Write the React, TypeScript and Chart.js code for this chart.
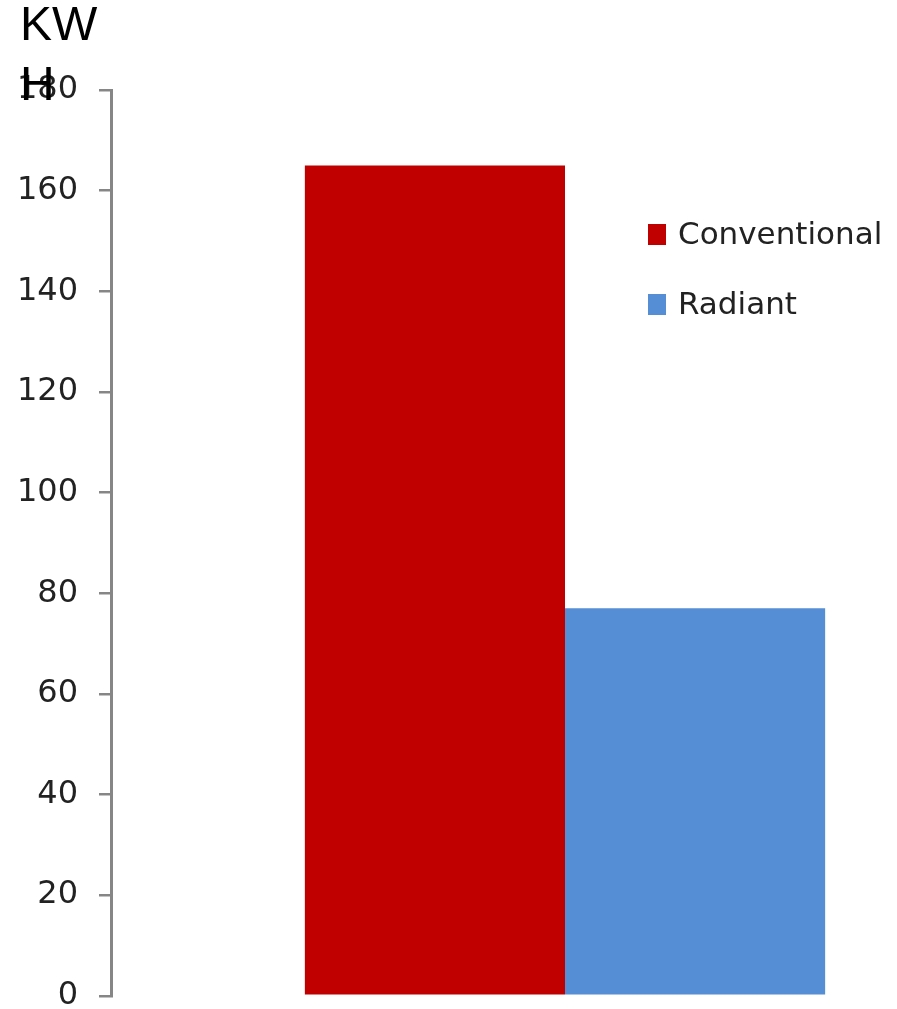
import React, { useEffect, useRef } from "react";
import { Chart, registerables } from "chart.js";

Chart.register(...registerables);

const categories: string[] = [""];
const seriesNames: string[] = ["Conventional", "Radiant"];
const conventionalValues: number[] = [165];
const radiantValues: number[] = [77];
const seriesColors: string[] = ["#C00000", "#558ED5"];
const titleLines: string[] = ["KW", "H"];
const yMin = 0;
const yMax = 180;
const yStep = 20;

const CANVAS_W = 1019;
const CANVAS_H = 1036;

const titlePlugin = {
  id: "kwhTitle",
  afterDraw(chart: any) {
    const ctx = chart.ctx;
    ctx.save();
    ctx.fillStyle = "#000000";
    ctx.font = "48px 'Liberation Sans', Arial, sans-serif";
    ctx.textAlign = "left";
    ctx.textBaseline = "alphabetic";
    titleLines.forEach((t, i) => {
      ctx.fillText(t, 20, 40 + i * 60);
    });
    ctx.restore();
  },
};

const legendPlugin = {
  id: "insideLegend",
  afterDraw(chart: any) {
    const ctx = chart.ctx;
    ctx.save();
    ctx.font = "31px 'DejaVu Sans', sans-serif";
    ctx.textAlign = "left";
    ctx.textBaseline = "middle";
    chart.data.datasets.forEach((ds: any, i: number) => {
      const top = 224 + i * 70;
      ctx.fillStyle = ds.backgroundColor;
      ctx.fillRect(648, top, 18, 21);
      ctx.fillStyle = "#222222";
      ctx.fillText(ds.label, 678, top + 12);
    });
    ctx.restore();
  },
};

export default function App() {
  const ref = useRef<HTMLCanvasElement | null>(null);

  useEffect(() => {
    if (!ref.current) return;
    const chart = new Chart(ref.current, {
      type: "bar",
      data: {
        labels: categories,
        datasets: [
          {
            label: seriesNames[0],
            data: conventionalValues,
            backgroundColor: seriesColors[0],
            borderWidth: 0,
          },
          {
            label: seriesNames[1],
            data: radiantValues,
            backgroundColor: seriesColors[1],
            borderWidth: 0,
          },
        ],
      },
      options: {
        responsive: false,
        animation: false,
        devicePixelRatio: 1,
        layout: { padding: { top: 90, bottom: 14, left: 0, right: 0 } },
        datasets: {
          bar: { categoryPercentage: 0.573, barPercentage: 1 },
        },
        plugins: {
          legend: { display: false },
          title: { display: false },
          tooltip: { enabled: false },
        },
        scales: {
          x: { display: false },
          y: {
            min: yMin,
            max: yMax,
            afterFit: (scale: any) => {
              scale.width = 111;
            },
            ticks: {
              stepSize: yStep,
              padding: 21,
              color: "#222222",
              font: { family: "'DejaVu Sans', sans-serif", size: 32 },
            },
            grid: {
              drawOnChartArea: false,
              drawTicks: true,
              tickLength: 12,
              color: "#868686",
              lineWidth: 2.5,
            },
            border: { display: true, color: "#868686", width: 3 },
          },
        },
      },
      plugins: [titlePlugin, legendPlugin],
    });
    return () => chart.destroy();
  }, []);

  return (
    <div
      style={{
        position: "absolute",
        left: 0,
        top: 0,
        width: 897,
        height: 1009,
        overflow: "hidden",
        background: "#ffffff",
      }}
    >
      <canvas ref={ref} width={CANVAS_W} height={CANVAS_H} style={{ display: "block" }} />
    </div>
  );
}
